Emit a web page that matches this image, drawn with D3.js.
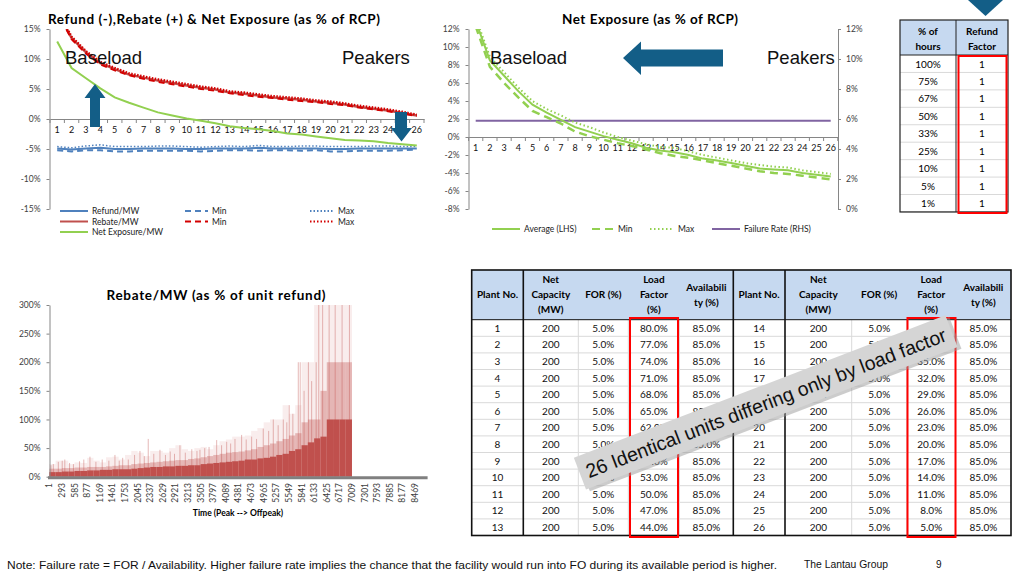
<!DOCTYPE html>
<html>
<head>
<meta charset="utf-8">
<script src="https://cdn.jsdelivr.net/npm/d3@7"></script>
<style>
  body { margin: 0; background: #fff; }
</style>
</head>
<body>
<svg id="slide" width="1016" height="584" font-family="Lato, 'Open Sans', sans-serif"></svg>
<script>
// ---- data ----
var units = d3.range(1, 27);

var refundAvg = [-4.9,-5.1,-4.9,-4.8,-5.0,-5.0,-4.9,-4.9,-4.9,-5.0,-5.0,-4.9,-4.9,-4.9,-4.8,-4.9,-4.9,-4.9,-4.9,-5.0,-5.0,-4.9,-4.9,-4.9,-4.9,-4.9];
var refundMin = [-5.2,-5.4,-5.2,-5.2,-5.4,-5.4,-5.3,-5.3,-5.3,-5.3,-5.4,-5.3,-5.2,-5.2,-5.3,-5.2,-5.2,-5.3,-5.2,-5.4,-5.4,-5.3,-5.3,-5.3,-5.2,-5.1];
var refundMax = [-4.6,-4.8,-4.5,-4.3,-4.6,-4.6,-4.6,-4.5,-4.5,-4.6,-4.7,-4.6,-4.5,-4.6,-4.4,-4.6,-4.6,-4.5,-4.5,-4.6,-4.6,-4.6,-4.5,-4.5,-4.6,-4.6];

var rebateAvg = [18.0,13.5,11.1,9.3,8.3,7.4,6.9,6.4,6.0,5.6,5.2,4.9,4.4,4.2,3.9,3.6,3.4,3.2,2.9,2.7,2.4,2.0,1.7,1.4,1.0,0.6];
var rebateMin = [17.8,13.3,10.9,9.1,8.1,7.3,6.7,6.2,5.8,5.4,5.0,4.7,4.3,4.0,3.7,3.5,3.2,3.0,2.8,2.5,2.3,1.9,1.6,1.3,0.9,0.5];
var rebateMax = [18.2,13.7,11.3,9.5,8.5,7.6,7.1,6.6,6.2,5.8,5.4,5.1,4.6,4.4,4.1,3.8,3.6,3.4,3.1,2.9,2.6,2.2,1.9,1.6,1.2,0.7];

var netAvg = [12.9,8.5,6.8,5.1,3.6,2.7,1.9,1.1,0.6,0.1,-0.3,-0.7,-1.2,-1.5,-1.7,-2.0,-2.4,-2.6,-2.9,-3.2,-3.5,-3.6,-3.7,-4.0,-4.2,-4.4];
var netMin = [12.3,7.8,6.0,4.4,2.9,2.2,1.5,0.6,0.1,-0.3,-0.7,-1.0,-1.4,-1.8,-2.1,-2.3,-2.6,-2.9,-3.2,-3.5,-3.8,-4.0,-4.1,-4.3,-4.5,-4.7];
var netMax = [13.3,8.9,7.2,5.5,4.0,3.1,2.4,1.6,1.1,0.5,0.0,-0.4,-0.8,-1.1,-1.2,-1.6,-2.0,-2.3,-2.6,-2.9,-3.1,-3.3,-3.4,-3.7,-3.9,-4.1];
var failureRate = [5.88,5.88,5.88,5.88,5.88,5.88,5.88,5.88,5.88,5.88,5.88,5.88,5.88,5.88,5.88,5.88,5.88,5.88,5.88,5.88,5.88,5.88,5.88,5.88,5.88,5.88];

var hourTicks = [1,293,585,877,1169,1461,1753,2045,2337,2629,2921,3213,3505,3797,4089,4381,4673,4965,5257,5549,5841,6133,6425,6717,7009,7301,7593,7885,8177,8469];
var bucketStart = [1,147,293,439,585,731,877,1023,1169,1315,1461,1607,1753,1899,2045,2191,2337,2483,2629,2775,2921,3067,3213,3359,3505,3651,3797,3943,4089,4235,4381,4527,4673,4819,4965,5111,5257,5403,5549,5695,5841,5987,6133,6279,6425,6571,6717,6863];
var rebateBase = [8,8,9,9,10,10,11,11,12,12,13,13,13,14,15,16,17,17,18,18,19,19,20,20,22,23,24,25,26,27,28,30,30,32,33,35,38,40,45,48,55,60,67,70,100,100,100,100];
var rebateMid = [14,14,15,15,16,16,17,17,17,18,19,20,20,22,23,24,25,26,27,28,29,29,31,32,34,36,38,40,42,43,44,46,48,52,55,58,62,66,72,76,95,100,100,150,200,200,200,200];
var rebatePeak = [22,28,28,22,25,24,33,28,25,34,35,30,38,45,42,36,45,45,42,50,55,48,45,50,52,48,55,62,65,70,70,72,80,85,95,100,100,125,110,125,200,200,300,300,300,300,300,300];
var spikeHour = [40,94,210,300,360,470,560,700,800,942,1080,1226,1380,1521,1620,1700,1830,1975,2100,2200,2292,2420,2563,2690,2800,2900,3026,3150,3300,3420,3489,3600,3700,3876,3990,4108,4200,4300,4454,4560,4686,4800,4955,5080,5187,5300,5419,5500,5557,5640,5766,5810,5900,6000,6075,6180,6240,6330,6480,6620,6780,6950];
var spikeValue = [20,22,26,28,30,24,22,27,30,35,26,30,28,38,28,33,30,38,45,36,66,40,47,38,44,40,55,42,48,45,47,50,52,64,55,61,58,66,73,65,70,66,84,80,100,90,100,95,125,110,200,200,150,200,167,200,300,300,300,300,300,300];

var pctHours = ["100%","75%","67%","50%","33%","25%","10%","5%","1%"];
var refundFactor = [1,1,1,1,1,1,1,1,1];

var plantNo = [1,2,3,4,5,6,7,8,9,10,11,12,13,14,15,16,17,18,19,20,21,22,23,24,25,26];
var netCapacity = [200,200,200,200,200,200,200,200,200,200,200,200,200,200,200,200,200,200,200,200,200,200,200,200,200,200];
var forPct = [5,5,5,5,5,5,5,5,5,5,5,5,5,5,5,5,5,5,5,5,5,5,5,5,5,5];
var loadFactor = [80,77,74,71,68,65,62,59,56,53,50,47,44,41,38,35,32,29,26,23,20,17,14,11,8,5];
var availability = [85,85,85,85,85,85,85,85,85,85,85,85,85,85,85,85,85,85,85,85,85,85,85,85,85,85];

// ---- colours / fonts ----
var cBlue = "#4f81bd", cRed = "#c0504d", cRed2 = "#d40000", cGreen = "#92d050",
  cPurple = "#8064a2", cArrow = "#135e87", cAxis = "#868686", cHead = "#c6d9f0";
var arial = "'Liberation Sans', Arial, sans-serif";
var narrow = "'Liberation Sans Narrow', 'Arial Narrow', 'Liberation Sans', sans-serif";

var svg = d3.select("#slide");
svg.append("rect").attr("width", 1016).attr("height", 584).attr("fill", "#fff");

function styleAxis(sel, size) {
  sel.attr("font-family", null);
  sel.select(".domain").attr("stroke", cAxis);
  sel.selectAll(".tick line").attr("stroke", cAxis);
  sel.selectAll(".tick text").attr("fill", "#404040").attr("font-size", size || 8.5);
}

function seriesLine(g, xs, ys, data, color, width, dash) {
  var line = d3.line()
    .x(function (d, i) { return xs(units[i]) + xs.bandwidth() / 2; })
    .y(function (d) { return ys(d); });
  g.append("path").datum(data).attr("d", line).attr("fill", "none")
    .attr("stroke", color).attr("stroke-width", width)
    .attr("stroke-dasharray", dash || null);
}

function legendItem(g, x, y, color, dash, label, w) {
  g.append("line").attr("x1", x).attr("x2", x + (w || 28)).attr("y1", y).attr("y2", y)
    .attr("stroke", color).attr("stroke-width", 2).attr("stroke-dasharray", dash || null);
  g.append("text").attr("x", x + (w || 28) + 4).attr("y", y + 3).attr("font-size", 8.5)
    .attr("fill", "#222").text(label);
}

function bandTicks(g, xs, y) {
  var pos = units.map(function (u) { return xs(u); }).concat([xs.range()[1]]);
  g.selectAll(null).data(pos).enter().append("line")
    .attr("x1", function (d) { return d; }).attr("x2", function (d) { return d; })
    .attr("y1", y).attr("y2", y + 4).attr("stroke", cAxis);
}

// ================= top-left chart =================
var g1 = svg.append("g");
var x1 = d3.scaleBand().domain(units).range([50, 424]);
var y1 = d3.scaleLinear().domain([-15, 15]).range([209, 29]);

g1.append("text").attr("x", 48).attr("y", 23.5).attr("font-weight", "bold").attr("font-size", 13.5)
  .attr("textLength", 332).text("Refund (-),Rebate (+) & Net Exposure (as % of RCP)");

var ay1 = g1.append("g").attr("transform", "translate(49.5,0)")
  .call(d3.axisLeft(y1).tickValues(d3.range(-15, 16, 5)).tickFormat(function (d) { return d + "%"; })
    .tickSize(3).tickSizeOuter(0).tickPadding(6));
styleAxis(ay1);

var ax1 = g1.append("g").attr("transform", "translate(0," + y1(0) + ")")
  .call(d3.axisBottom(x1).tickSize(0).tickSizeOuter(0).tickPadding(8));
styleAxis(ax1, 9);
ax1.selectAll(".tick text").attr("fill", "#111");
bandTicks(g1, x1, y1(0));

g1.append("clipPath").attr("id", "clip1").append("rect")
  .attr("x", 49).attr("y", 29).attr("width", 377).attr("height", 180);
var p1 = g1.append("g").attr("clip-path", "url(#clip1)");
seriesLine(p1, x1, y1, refundAvg, cBlue, 2);
seriesLine(p1, x1, y1, refundMin, cBlue, 2, "6,4");
seriesLine(p1, x1, y1, refundMax, cBlue, 1.5, "1.5,2");
seriesLine(p1, x1, y1, netAvg, cGreen, 2);
seriesLine(p1, x1, y1, rebateAvg, cRed, 2.5);
seriesLine(p1, x1, y1, rebateMin, cRed2, 2, "6,4");
seriesLine(p1, x1, y1, rebateMax, cRed2, 2.5, "1.5,1.5");

var lg1 = g1.append("g");
legendItem(lg1, 60, 211, cBlue, null, "Refund/MW");
legendItem(lg1, 60, 221.5, cRed, null, "Rebate/MW");
legendItem(lg1, 60, 232, cGreen, null, "Net Exposure/MW");
legendItem(lg1, 185, 211, cBlue, "6,4", "Min", 23);
legendItem(lg1, 185, 221.5, cRed2, "6,4", "Min", 23);
legendItem(lg1, 310, 211, cBlue, "1.5,2", "Max", 24);
legendItem(lg1, 310, 221.5, cRed2, "1.5,2", "Max", 24);

g1.append("text").attr("x", 65).attr("y", 63.5).attr("font-family", arial)
  .attr("font-size", 18.5).attr("fill", "#111").text("Baseload");
g1.append("text").attr("x", 342).attr("y", 63.5).attr("font-family", arial)
  .attr("font-size", 18.5).attr("fill", "#111").text("Peakers");
// annotation arrows
g1.append("path").attr("fill", cArrow)
  .attr("d", "M90,127 L90,98 L84.5,98 L95,84 L105.5,98 L100,98 L100,127 Z");
g1.append("path").attr("fill", cArrow)
  .attr("d", "M395,112 L407,112 L407,128 L412,128 L401.5,141.5 L391,128 L395,128 Z");

// ================= top-middle chart =================
var g2 = svg.append("g");
var x2 = d3.scaleBand().domain(units).range([468.6, 837.8]);
var y2 = d3.scaleLinear().domain([-8, 12]).range([209, 29]);
var y2r = d3.scaleLinear().domain([0, 12]).range([209, 29]);

g2.append("text").attr("x", 650).attr("y", 23.5).attr("text-anchor", "middle").attr("font-weight", "bold")
  .attr("font-size", 13.5).attr("textLength", 176).text("Net Exposure (as % of RCP)");

var ay2 = g2.append("g").attr("transform", "translate(468.5,0)")
  .call(d3.axisLeft(y2).tickValues(d3.range(-8, 13, 2)).tickFormat(function (d) { return d + "%"; })
    .tickSize(3).tickSizeOuter(0).tickPadding(6));
styleAxis(ay2);
var ay2r = g2.append("g").attr("transform", "translate(838,0)")
  .call(d3.axisRight(y2r).tickValues(d3.range(0, 13, 2)).tickFormat(function (d) { return d + "%"; })
    .tickSize(3).tickSizeOuter(0).tickPadding(5));
styleAxis(ay2r);
var ax2 = g2.append("g").attr("transform", "translate(0," + y2(0) + ")")
  .call(d3.axisBottom(x2).tickSize(0).tickSizeOuter(0).tickPadding(8));
styleAxis(ax2, 9);
ax2.selectAll(".tick text").attr("fill", "#111");
bandTicks(g2, x2, y2(0));

g2.append("clipPath").attr("id", "clip2").append("rect")
  .attr("x", 468).attr("y", 29).attr("width", 370).attr("height", 180);
var p2 = g2.append("g").attr("clip-path", "url(#clip2)");
seriesLine(p2, x2, y2r, failureRate, cPurple, 2);
seriesLine(p2, x2, y2, netMin, cGreen, 2.5, "8,5");
seriesLine(p2, x2, y2, netMax, cGreen, 2, "1.5,2.5");
seriesLine(p2, x2, y2, netAvg, cGreen, 2);

var lg2 = g2.append("g");
legendItem(lg2, 492, 229, cGreen, null, "Average (LHS)");
legendItem(lg2, 592, 229, cGreen, "8,5", "Min", 22);
legendItem(lg2, 650, 229, cGreen, "1.5,2.5", "Max", 24);
legendItem(lg2, 712, 229, cPurple, null, "Failure Rate (RHS)");

g2.append("text").attr("x", 490).attr("y", 63.5).attr("font-family", arial)
  .attr("font-size", 18.5).attr("fill", "#111").text("Baseload");
g2.append("text").attr("x", 767).attr("y", 63.5).attr("font-family", arial)
  .attr("font-size", 18.5).attr("fill", "#111").text("Peakers");
g2.append("path").attr("fill", cArrow)
  .attr("d", "M623,58 L641,41.5 L641,49.5 L723,49.5 L723,66.5 L641,66.5 L641,75 Z");

// ================= top-right table =================
var g3 = svg.append("g");
var t3x = [900, 956, 1008], t3top = 20, t3head = 55, t3row = 17.44;
g3.append("path").attr("fill", cArrow).attr("d", "M968,0 L1003,0 L985.5,16 Z");
g3.append("rect").attr("x", 900).attr("y", t3top).attr("width", 108).attr("height", t3head - t3top).attr("fill", cHead);
g3.selectAll(null).data(pctHours).enter().append("line")
  .attr("x1", 900).attr("x2", 1008)
  .attr("y1", function (d, i) { return t3head + (i + 1) * t3row; })
  .attr("y2", function (d, i) { return t3head + (i + 1) * t3row; })
  .attr("stroke", "#d9d9d9");
g3.append("line").attr("x1", 900).attr("x2", 1008).attr("y1", t3head).attr("y2", t3head).attr("stroke", "#222");
g3.append("line").attr("x1", 956).attr("x2", 956).attr("y1", t3top).attr("y2", t3head + 9 * t3row).attr("stroke", "#222");
g3.append("rect").attr("x", 900).attr("y", t3top).attr("width", 108).attr("height", t3head - t3top + 9 * t3row)
  .attr("fill", "none").attr("stroke", "#222").attr("stroke-width", 1.2);
[["% of", "hours"], ["Refund", "Factor"]].forEach(function (lines, c) {
  lines.forEach(function (s, k) {
    g3.append("text").attr("x", (t3x[c] + t3x[c + 1]) / 2).attr("y", 35 + k * 14.5).attr("text-anchor", "middle")
      .attr("font-weight", "bold").attr("font-size", 10).text(s);
  });
});
g3.selectAll(null).data(pctHours).enter().append("text")
  .attr("x", 928).attr("y", function (d, i) { return t3head + i * t3row + 12.5; })
  .attr("text-anchor", "middle").attr("font-size", 10).text(function (d) { return d; });
g3.selectAll(null).data(refundFactor).enter().append("text")
  .attr("x", 982).attr("y", function (d, i) { return t3head + i * t3row + 12.5; })
  .attr("text-anchor", "middle").attr("font-size", 10).text(function (d) { return d; });
g3.append("rect").attr("x", 958.5).attr("y", 56).attr("width", 48).attr("height", 157)
  .attr("fill", "none").attr("stroke", "#ff0000").attr("stroke-width", 2);

// ================= bottom-left chart =================
var g4 = svg.append("g");
var xb = d3.scaleLinear().domain([1, 8760]).range([49.3, 427.6]);
var yb = d3.scaleLinear().domain([0, 300]).range([476.7, 305]);

g4.append("text").attr("x", 216).attr("y", 299.5).attr("text-anchor", "middle").attr("font-weight", "bold")
  .attr("font-size", 13.5).attr("textLength", 219).text("Rebate/MW (as % of unit refund)");

g4.append("clipPath").attr("id", "clip4").append("rect")
  .attr("x", 49).attr("y", 305).attr("width", 380).attr("height", 172);
var p4 = g4.append("g").attr("clip-path", "url(#clip4)");
function bucketRects(vals, op) {
  p4.selectAll(null).data(vals).enter().append("rect")
    .attr("x", function (d, i) { return xb(bucketStart[i]); })
    .attr("width", function (d, i) { return xb(bucketStart[i] + 146) - xb(bucketStart[i]); })
    .attr("y", function (d) { return yb(d); })
    .attr("height", function (d) { return yb(0) - yb(d); })
    .attr("fill", cRed).attr("fill-opacity", op);
}
bucketRects(rebatePeak, 0.1);
bucketRects(rebateMid, 0.35);
p4.selectAll(null).data(spikeValue).enter().append("line")
  .attr("x1", function (d, i) { return xb(spikeHour[i]); })
  .attr("x2", function (d, i) { return xb(spikeHour[i]); })
  .attr("y1", yb(0)).attr("y2", function (d) { return yb(d); })
  .attr("stroke", cRed).attr("stroke-opacity", 0.4).attr("stroke-width", 1);
bucketRects(rebateBase, 1);

var ayb = g4.append("g").attr("transform", "translate(49.5,0)")
  .call(d3.axisLeft(yb).tickValues(d3.range(0, 301, 50)).tickFormat(function (d) { return d + "%"; })
    .tickSize(3).tickSizeOuter(0).tickPadding(6));
styleAxis(ayb);
g4.append("line").attr("x1", 48).attr("x2", 427.6).attr("y1", 477.8).attr("y2", 477.8)
  .attr("stroke", "#808080").attr("stroke-width", 3);
g4.selectAll(null).data(hourTicks).enter().append("text")
  .attr("transform", function (d) { return "translate(" + xb(d) + ",483) rotate(-90)"; })
  .attr("text-anchor", "end").attr("dy", "0.35em").attr("font-size", 8.5).attr("fill", "#404040")
  .text(function (d) { return d; });
g4.append("text").attr("x", 238).attr("y", 516).attr("text-anchor", "middle").attr("font-weight", "bold")
  .attr("font-size", 8.5).text("Time (Peak  --> Offpeak)");

// ================= bottom-right table =================
var g5 = svg.append("g");
var colL = [471.7, 523.3, 578.3, 628.3, 679.5, 733.3];
var colR = [733.3, 785, 851.7, 906.7, 955.7, 1011];
var tTop = 270, tHead = 319.7, tRow = 16.6, tBot = tHead + 13 * tRow;
var heads = [["Plant No."], ["Net", "Capacity", "(MW)"], ["FOR (%)"], ["Load", "Factor", "(%)"], ["Availabili", "ty (%)"]];

g5.append("rect").attr("x", colL[0]).attr("y", tTop).attr("width", colR[5] - colL[0]).attr("height", tHead - tTop)
  .attr("fill", cHead);
d3.range(1, 13).forEach(function (r) {
  g5.append("line").attr("x1", colL[0]).attr("x2", colR[5])
    .attr("y1", tHead + r * tRow).attr("y2", tHead + r * tRow).attr("stroke", "#d9d9d9");
});
[colL, colR].forEach(function (cols) {
  [2, 3, 4].forEach(function (c) {
    g5.append("line").attr("x1", cols[c]).attr("x2", cols[c]).attr("y1", tHead).attr("y2", tBot).attr("stroke", "#d9d9d9");
  });
  g5.append("line").attr("x1", cols[1]).attr("x2", cols[1]).attr("y1", tTop).attr("y2", tBot)
    .attr("stroke", "#111").attr("stroke-width", 1.6);
});
g5.append("line").attr("x1", colL[5]).attr("x2", colL[5]).attr("y1", tTop).attr("y2", tBot)
  .attr("stroke", "#111").attr("stroke-width", 1.6);
g5.append("line").attr("x1", colL[0]).attr("x2", colR[5]).attr("y1", tHead).attr("y2", tHead)
  .attr("stroke", "#111");
g5.append("rect").attr("x", colL[0]).attr("y", tTop).attr("width", colR[5] - colL[0]).attr("height", tBot - tTop)
  .attr("fill", "none").attr("stroke", "#111").attr("stroke-width", 1.6);

[colL, colR].forEach(function (cols) {
  heads.forEach(function (lines, c) {
    var cx = (cols[c] + cols[c + 1]) / 2, mid = (tTop + tHead) / 2;
    lines.forEach(function (s, k) {
      g5.append("text").attr("x", cx).attr("y", mid + (k - (lines.length - 1) / 2) * 15 + 3.5)
        .attr("text-anchor", "middle").attr("font-weight", "bold").attr("font-size", 10).text(s);
    });
  });
});

var rows = plantNo.map(function (p, i) {
  return [String(p), String(netCapacity[i]), forPct[i].toFixed(1) + "%", loadFactor[i].toFixed(1) + "%", availability[i].toFixed(1) + "%"];
});
rows.forEach(function (row, i) {
  var cols = i < 13 ? colL : colR, r = i % 13;
  row.forEach(function (s, c) {
    g5.append("text").attr("x", (cols[c] + cols[c + 1]) / 2).attr("y", tHead + r * tRow + 12)
      .attr("text-anchor", "middle").attr("font-size", 10).attr("fill", "#111").text(s);
  });
});
g5.append("rect").attr("x", 630).attr("y", 318).attr("width", 48).attr("height", 219)
  .attr("fill", "none").attr("stroke", "#ff0000").attr("stroke-width", 2);
g5.append("rect").attr("x", 907.5).attr("y", 318).attr("width", 48).attr("height", 219)
  .attr("fill", "none").attr("stroke", "#ff0000").attr("stroke-width", 2);

// rotated banner
var banner = g5.append("g").attr("transform", "translate(767,403) rotate(-21)");
banner.append("rect").attr("x", -197).attr("y", -15).attr("width", 398).attr("height", 34).attr("fill", "#9a9a9a").attr("opacity", 0.5);
banner.append("rect").attr("x", -200).attr("y", -18).attr("width", 398).attr("height", 34).attr("fill", "#d5d5d5");
banner.append("text").attr("x", -1).attr("y", 6.5).attr("text-anchor", "middle")
  .attr("font-family", arial).attr("font-size", 19.5).attr("fill", "#111")
  .text("26 Identical units differing only by load factor");

// ================= footer =================
svg.append("text").attr("x", 7).attr("y", 569).attr("font-family", narrow).attr("font-size", 11)
  .attr("textLength", 770).attr("lengthAdjust", "spacingAndGlyphs").attr("fill", "#111")
  .text("Note: Failure rate = FOR / Availability. Higher failure rate implies the chance that the facility would run into FO during its available period is higher.");
svg.append("text").attr("x", 804).attr("y", 568).attr("font-family", narrow).attr("font-size", 10)
  .attr("textLength", 84).attr("lengthAdjust", "spacingAndGlyphs").attr("fill", "#111").text("The Lantau Group");
svg.append("text").attr("x", 936).attr("y", 568).attr("font-family", narrow).attr("font-size", 10)
  .attr("fill", "#111").text("9");
</script>
</body>
</html>
